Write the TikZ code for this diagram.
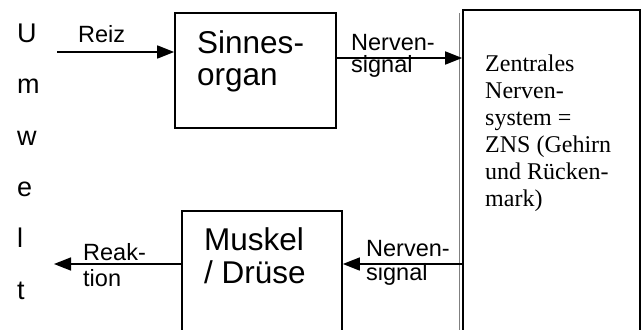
\documentclass[tikz,border=0pt]{standalone}
\usepackage{fontspec}
\setmainfont{Liberation Serif}
\setsansfont{Liberation Sans}
\usetikzlibrary{arrows.meta}
\begin{document}
\begin{tikzpicture}[x=1pt,y=-1pt,
  box/.style={draw, line width=1.7pt, inner sep=0pt},
  lbl/.style={font=\sffamily\fontsize{23.5}{26}\selectfont, anchor=base west, inner sep=0pt},
  big/.style={font=\sffamily\fontsize{31.5}{32}\selectfont, anchor=base west, inner sep=0pt},
  env/.style={font=\sffamily\fontsize{27}{27}\selectfont, anchor=base west, inner sep=0pt},
  zns/.style={font=\rmfamily\fontsize{24}{27}\selectfont, anchor=base west, inner sep=0pt},
  conn/.style={line width=1.7pt, -{Triangle[length=17pt,width=13pt]}}]
\useasboundingbox (0,0) rectangle (644,329);
\clip (0,0) rectangle (644,329);
\fill[white] (0,0) rectangle (644,329);
% boxes
\node[box, minimum width=161pt, minimum height=115pt] (sinn) at (255.5,70.5) {};
\node[box, minimum width=160pt, minimum height=149pt] (musk) at (262,285.5) {};
\node[box, minimum width=177pt, minimum height=350pt] (zns) at (551.5,185) {};
\draw[gray, line width=1pt] (zns.north west) ++(-2.5,4) coordinate (zsh) -- (zsh |- 0,340);
% box texts
\node[big] (s1) at (197,53) {Sinnes-};
\node[big] (s2) at (197,85) {organ};
\node[big] (m1) at (204,250) {Muskel};
\node[big] (m2) at (204,283) {/ Drüse};
\node[zns] (z1) at (485,71) {Zentrales};
\node[zns] (z2) at (485,98) {Nerven-};
\node[zns] (z3) at (485,125) {system =};
\node[zns] (z4) at (485,152) {ZNS (Gehirn};
\node[zns] (z5) at (485,179) {und Rücken-};
\node[zns] (z6) at (485,206) {mark)};
% Umwelt letters
\node[env] (u1) at (17,43) {U};
\node[env] (u2) at (17,93) {m};
\node[env] (u3) at (17,145) {w};
\node[env] (u4) at (17,196) {e};
\node[env] (u5) at (17,247) {l};
\node[env] (u6) at (17,299) {t};
% connectors
\coordinate (reizstart) at (57,52);
\coordinate (ytop) at (0,58);
\coordinate (ybot) at (0,264);
\coordinate (reakend) at (54,264);
\draw[conn] (reizstart) -- (reizstart -| sinn.west);
\draw[conn] (sinn.east |- ytop) -- (zns.west |- ytop);
\draw[conn] (zns.west |- ybot) -- (musk.east |- ybot);
\draw[conn] (musk.west |- ybot) -- (reakend);
% connector labels
\node[lbl] (l1) at (78,43) {Reiz};
\node[lbl] (l2) at (351,50) {Nerven-};
\node[lbl] (l3) at (351,72) {signal};
\node[lbl] (l4) at (366,256) {Nerven-};
\node[lbl] (l5) at (366,280) {signal};
\node[lbl] (l6) at (83,260) {Reak-};
\node[lbl] (l7) at (83,286) {tion};
\end{tikzpicture}
\end{document}
